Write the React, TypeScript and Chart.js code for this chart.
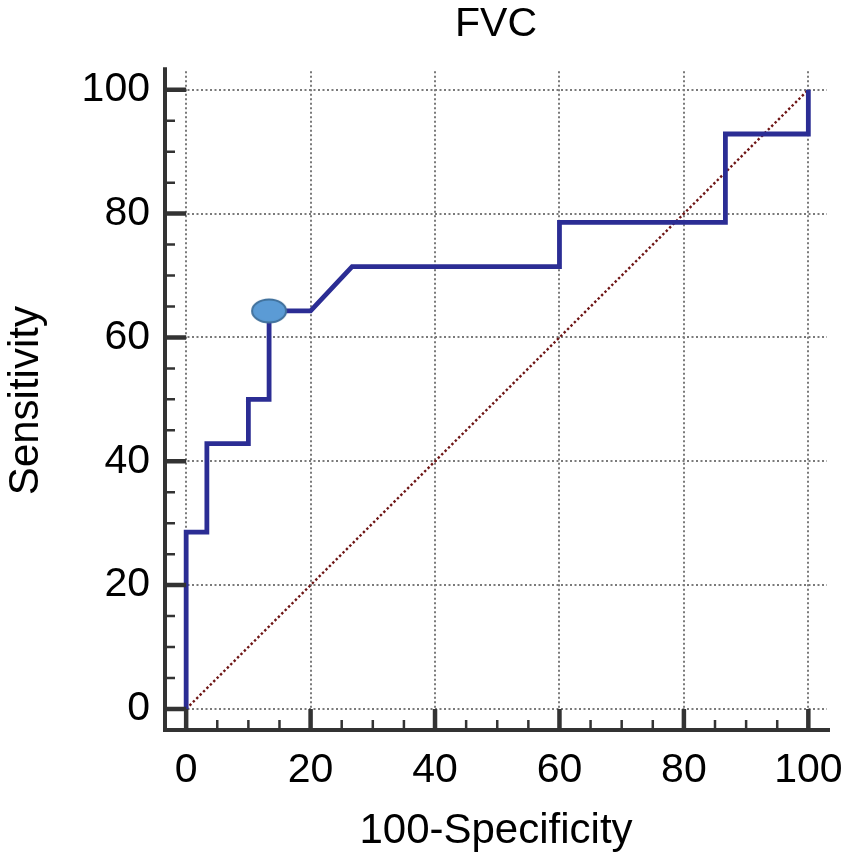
import React, { useEffect, useRef } from 'react';
import Chart, { ChartConfiguration, Plugin } from 'chart.js/auto';

// ROC curve (100-Specificity, Sensitivity)
const rocX = [0, 0, 3.33, 3.33, 10, 10, 13.33, 13.33, 20, 26.67, 60, 60, 86.67, 86.67, 100, 100];
const rocY = [0, 28.57, 28.57, 42.86, 42.86, 50, 50, 64.29, 64.29, 71.43, 71.43, 78.57, 78.57, 92.86, 92.86, 100];

// optimal cut-off marker
const cutoffX = [13.33];
const cutoffY = [64.29];

// chance line
const chanceX = [0, 100];
const chanceY = [0, 100];

const tickValues = [0, 20, 40, 60, 80, 100];
const minorStep = 5;

const chartTitle = 'FVC';
const xTitle = '100-Specificity';
const yTitle = 'Sensitivity';

const FONT = "'Liberation Sans', Arial, sans-serif";

const toPoints = (xs: number[], ys: number[]) => xs.map((x, i) => ({ x, y: ys[i] }));

// ellipse used as the cut-off point style
const makeEllipse = () => {
  const c = document.createElement('canvas');
  c.width = 38;
  c.height = 26;
  const g = c.getContext('2d');
  if (g) {
    g.beginPath();
    g.ellipse(19, 13, 17, 11.5, 0, 0, Math.PI * 2);
    g.fillStyle = '#5B9BD5';
    g.fill();
    g.lineWidth = 2;
    g.strokeStyle = '#41719C';
    g.stroke();
  }
  return c;
};

// spines and inward tick marks, placed with the chart's own scales
const axesPlugin: Plugin = {
  id: 'rocAxes',
  afterDraw(chart) {
    const { ctx, chartArea, scales } = chart;
    const xs = scales.x;
    const ys = scales.y;
    const x0 = xs.getPixelForValue(0);
    const y0 = ys.getPixelForValue(0);
    ctx.save();
    ctx.strokeStyle = '#333333';
    ctx.lineCap = 'butt';
    ctx.lineJoin = 'miter';

    ctx.lineWidth = 4;
    ctx.beginPath();
    ctx.moveTo(chartArea.left, chartArea.top - 4);
    ctx.lineTo(chartArea.left, chartArea.bottom);
    ctx.lineTo(chartArea.right + 3, chartArea.bottom);
    ctx.stroke();

    for (let v = 0; v <= 100; v += minorStep) {
      const major = tickValues.includes(v);
      ctx.lineWidth = major ? 4.5 : 2.5;
      const px = xs.getPixelForValue(v);
      const py = ys.getPixelForValue(v);
      ctx.beginPath();
      ctx.moveTo(px, chartArea.bottom);
      ctx.lineTo(px, major ? y0 : chartArea.bottom - 10);
      ctx.moveTo(chartArea.left, py);
      ctx.lineTo(major ? x0 : chartArea.left + 10, py);
      ctx.stroke();
    }
    ctx.restore();
  },
};

const tickFont = { family: FONT, size: 41, weight: 'normal' as const };
const titleFont = { family: FONT, size: 42, weight: 'normal' as const };

const createChartConfig = (marker: HTMLCanvasElement): ChartConfiguration => ({
  type: 'scatter',
  data: {
    datasets: [
      {
        label: 'Cut-off',
        data: toPoints(cutoffX, cutoffY),
        pointStyle: marker,
        pointRadius: 12,
        showLine: false,
        order: 0,
      },
      {
        label: 'ROC',
        data: toPoints(rocX, rocY),
        showLine: true,
        borderColor: '#2B2D94',
        borderWidth: 4.8,
        borderJoinStyle: 'miter',
        pointRadius: 0,
        tension: 0,
        order: 1,
      },
      {
        label: 'Chance',
        data: toPoints(chanceX, chanceY),
        showLine: true,
        borderColor: '#6E1515',
        borderWidth: 2.4,
        borderDash: [2.4, 2.4],
        pointRadius: 0,
        order: 2,
      },
    ],
  },
  options: {
    responsive: true,
    maintainAspectRatio: false,
    animation: false,
    events: [],
    layout: { padding: { left: 0, right: 24, top: 0, bottom: 0 } },
    plugins: {
      legend: { display: false },
      tooltip: { enabled: false },
      title: {
        display: true,
        text: chartTitle,
        color: '#000',
        font: { family: FONT, size: 41, weight: 'normal' },
        padding: { top: 0, bottom: 22 },
        fullSize: false,
      },
    },
    scales: {
      x: {
        type: 'linear',
        min: -3.4,
        max: 103,
        afterBuildTicks: (s) => {
          s.ticks = tickValues.map((value) => ({ value }));
        },
        afterFit: (s) => {
          s.height = 131;
          s.paddingLeft = 0;
          s.paddingRight = 0;
        },
        grid: { color: '#7a7a7a', lineWidth: 2, drawTicks: false },
        border: { display: false, dash: [2, 2.5] },
        ticks: { color: '#000', font: tickFont, padding: 16, maxRotation: 0, autoSkip: false },
        title: { display: true, text: xTitle, color: '#000', font: titleFont, padding: { top: 0, bottom: 4 } },
      },
      y: {
        type: 'linear',
        min: -3.4,
        max: 103,
        afterBuildTicks: (s) => {
          s.ticks = tickValues.map((value) => ({ value }));
        },
        afterFit: (s) => {
          s.width = 165;
          s.paddingTop = 0;
          s.paddingBottom = 0;
        },
        grid: { color: '#7a7a7a', lineWidth: 2, drawTicks: false },
        border: { display: false, dash: [2, 2.5] },
        ticks: { color: '#000', font: tickFont, padding: 15, autoSkip: false },
        title: { display: true, text: yTitle, color: '#000', font: titleFont, padding: { top: 1, bottom: 0 } },
      },
    },
  },
  plugins: [axesPlugin],
});

const App: React.FC = () => {
  const canvasRef = useRef<HTMLCanvasElement>(null);
  const chartInstance = useRef<Chart | null>(null);

  useEffect(() => {
    if (canvasRef.current) {
      const ctx = canvasRef.current.getContext('2d');
      if (ctx) {
        if (chartInstance.current) {
          chartInstance.current.destroy();
        }
        chartInstance.current = new Chart(ctx, createChartConfig(makeEllipse()));
      }
    }
    return () => {
      if (chartInstance.current) {
        chartInstance.current.destroy();
        chartInstance.current = null;
      }
    };
  }, []);

  return (
    <div style={{ position: 'fixed', left: 0, top: 0, width: 851, height: 861, background: '#fff' }}>
      <canvas ref={canvasRef} />
    </div>
  );
};

export default App;
